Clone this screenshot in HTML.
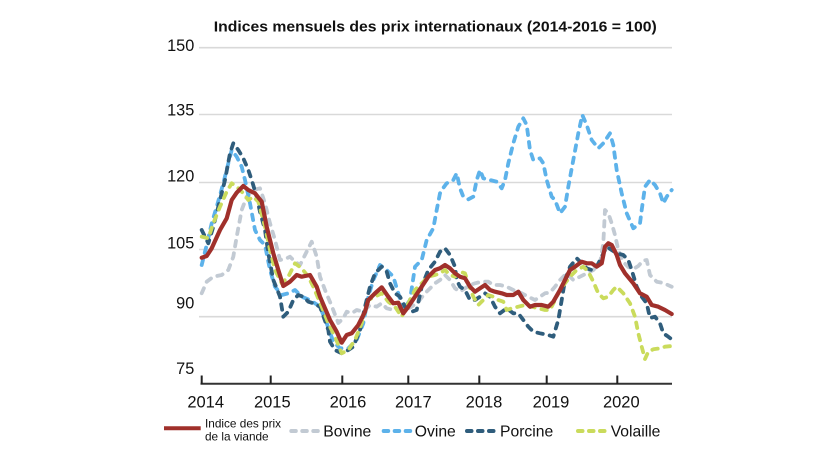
<!DOCTYPE html>
<html>
<head>
<meta charset="utf-8">
<style>
  html, body { margin:0; padding:0; background:#ffffff; }
  svg { display:block; }
  text { font-family: "Liberation Sans", Arial, sans-serif; fill:#111; }
</style>
</head>
<body>
<svg width="820" height="461" viewBox="0 0 820 461" xmlns="http://www.w3.org/2000/svg">
  <rect width="820" height="461" fill="#ffffff"/>

  <!-- Title -->
  <text x="435.3" y="31.7" text-anchor="middle" font-size="14.5" font-weight="bold" textLength="443" lengthAdjust="spacingAndGlyphs">Indices mensuels des prix internationaux (2014-2016 = 100)</text>

  <!-- Grid lines -->
  <g stroke="#D9D9D9" stroke-width="1.6">
    <line x1="199" y1="47.7" x2="672" y2="47.7"/>
    <line x1="199" y1="114.5" x2="672" y2="114.5"/>
    <line x1="199" y1="182.5" x2="672" y2="182.5"/>
    <line x1="199" y1="249.5" x2="672" y2="249.5"/>
    <line x1="199" y1="316.7" x2="672" y2="316.7"/>
  </g>

  <!-- Y labels -->
  <g font-size="16.3" text-anchor="end">
    <text x="194.3" y="51">150</text>
    <text x="194.3" y="115.7">135</text>
    <text x="194.3" y="181.7">120</text>
    <text x="194.3" y="248.3">105</text>
    <text x="194.3" y="308.3">90</text>
    <text x="194.3" y="374">75</text>
  </g>

  <!-- X axis -->
  <line x1="200.5" y1="383.8" x2="672" y2="383.8" stroke="#333" stroke-width="2"/>
  <g stroke="#222" stroke-width="2">
    <line x1="201.7" y1="375.5" x2="201.7" y2="384"/>
    <line x1="270.7" y1="375.5" x2="270.7" y2="384"/>
    <line x1="342.3" y1="375.5" x2="342.3" y2="384"/>
    <line x1="408.3" y1="375.5" x2="408.3" y2="384"/>
    <line x1="479.3" y1="375.5" x2="479.3" y2="384"/>
    <line x1="546.7" y1="375.5" x2="546.7" y2="384"/>
    <line x1="617.3" y1="375.5" x2="617.3" y2="384"/>
  </g>
  <g font-size="16.5" text-anchor="middle">
    <text x="205.7" y="407.7">2014</text>
    <text x="272.3" y="407.7">2015</text>
    <text x="348" y="407.7">2016</text>
    <text x="413.3" y="407.7">2017</text>
    <text x="484" y="407.7">2018</text>
    <text x="551" y="407.7">2019</text>
    <text x="621.3" y="407.7">2020</text>
  </g>

  <!-- Series -->
  <g fill="none" stroke-linejoin="round">
    <!-- Bovine -->
    <polyline stroke="#C2CAD3" stroke-width="3.8" stroke-linecap="round" stroke-dasharray="5.5 7"
      points="201.7,293.3 206.7,281.7 213.3,276.7 221.7,275 228.3,270 233.3,256.7 236.7,236.7 241.7,210 246.7,196.7 253.3,190 260,188.3 265,203.3 270,223.3 275,240 280,260 286.7,258.3 290,256.7 295,261.7 300,265 305,255 311.7,241.7 316.7,256.7 320,276.7 325,290 331.7,306 338.3,323 343.3,318.3 346.7,311.7 351.7,313.3 356.7,310 363.3,311.7 370,305 376.7,306.7 381.7,303.3 386.7,308.3 393.3,310 398.3,308.3 405,310 411.7,306.7 418.3,301.7 425,293.3 431.7,286.7 435,283.3 440,280 445,275 450,280 455,288.3 460,291.7 465,288.3 470,285 475,283.3 481.7,281.7 488.3,281.7 493.3,285 500,285 506.7,286.7 513.3,290 521.7,293.3 528.3,296.7 535,300 540,296.7 545,293.3 550,292.5 555,286.7 560,280 566.7,273.3 573.3,280 580,276.7 586.7,273.3 593.3,270 600,263.3 603.3,243.3 605,210 608.3,213.3 611.7,223.3 615,235 618.3,250 623.3,262 628.3,267 633.3,269 638.3,266 643.3,260.5 646.7,260 650,275 656.7,281.7 663.3,283 671.7,286.7"/>
    <!-- Ovine -->
    <polyline stroke="#5DB2EA" stroke-width="3.8" stroke-linecap="round" stroke-dasharray="5.5 7"
      points="201.7,265 206.7,245 211.7,223.3 216.7,206.7 223.3,183.3 228.3,163.3 231.7,150 236.7,156.7 241.7,166.7 245,180 250,203.3 255,230 260,240 265,245 270,270 275,286.7 281.7,295 288.3,293.3 295,290 301.7,296.7 310,300 320,306.7 326.7,323.3 333.3,341.7 340,348.3 348.3,348.3 356.7,340 363.3,323.3 368.3,296.7 373.3,280 380,265 386.7,270 393.3,276.7 398.3,293.3 403.3,310 410,300 415,266.7 421.7,260 426.7,240 433.3,228.3 436.7,210 440,193.3 441.7,190 446.7,183.3 453.3,180 456.7,173.3 460,188.3 463.3,196.7 468.3,199.3 473.3,196.7 476.7,180 480,170 483.3,178.3 490,180 496.7,181.7 501.7,188.3 505,180 508.3,163.3 513.3,143.3 518.3,126.7 523.3,118.3 526.7,125 530,150 533.3,160 540,158.3 543.3,163.3 546.7,180 551.7,196.7 555,200 560,213.3 565,206.7 568.3,186.7 573.3,160 578.3,133.3 582.3,115 586.7,125 591.7,140 598.3,148.3 603.3,143.3 610,133.3 613.3,145 616.7,170 621.7,193.3 626.7,213.3 633.3,228.3 640,223.3 641.7,210 645,186.7 650,180 655,185 660,193.3 663.3,203.3 666.7,196.7 671.7,190"/>
    <!-- Porcine -->
    <polyline stroke="#2F5D7C" stroke-width="3.8" stroke-linecap="round" stroke-dasharray="5.5 7"
      points="201.7,230 208.3,243.3 213.3,226.7 218.3,206.7 225,180 230,153.3 233.3,143.3 238.3,150 243.3,158.3 248.3,170 251.7,180 256.7,196.7 260,211.7 265,230 268.3,253.3 273.3,280 276.7,288.3 280,296.7 283.3,316.7 288.3,311.7 293.3,300 298.3,295 303.3,296.7 308.3,301.7 313.3,303.3 320,306.7 328.3,330 330,341.7 335,350 341.7,353.3 348.3,350 353.3,346.7 360,330 365,306.7 370,286.7 375,273.3 381.7,266.7 386.7,271.7 390,283.3 395,293.3 400,296.7 405,306.7 411.7,311.7 416.7,310 421.7,286.7 428.3,270 435,261.7 440,251.7 445,248.3 450,255 455,266.7 456.7,280 460,286.7 465,290 470,300 475,300 480,296.7 485,293.3 490,296.7 495,306.7 500,313.3 506.7,308.3 513.3,313.3 518.3,313.3 523.3,320 528.3,326.7 533.3,331.7 540,333.3 548.3,335 553.3,336.7 558.3,320 561.7,300 565,280 570,266.7 576.7,258.3 581.7,263.3 586.7,268.3 591.7,270 596.7,266.7 601.7,256.7 606.7,246.7 611.7,250 616.7,253.3 623.3,255 628.3,260 631.7,270 636.7,286.7 641.7,296.7 646.7,303.3 650,318 655,316.7 660,323.3 663.3,333.3 668.3,336.7 671.7,339.3"/>
    <!-- Volaille -->
    <polyline stroke="#CADB5C" stroke-width="3.8" stroke-linecap="round" stroke-dasharray="5.5 7"
      points="201.7,236.7 208.3,238.3 213.3,223.3 220,206.7 226.7,191.7 231.7,183.3 236.7,186.7 243.3,193.3 248.3,200 253.3,196.7 258.3,201.7 265,226.7 270,250 275,270 281.7,283.3 288.3,276.7 295,263.3 301.7,268.3 308.3,276.7 313.3,286.7 321.7,306.7 328.3,323.3 335,336.7 341.7,353.3 348.3,350 355,340 361.7,323.3 368.3,300 375,296.7 381.7,293.3 388.3,301.7 395,306.7 401.7,316.7 408.3,303.3 415,290 421.7,283.3 428.3,276.7 435,275 440,273.3 445,270 450,275 455,276.7 460,271.7 465,273.3 468.3,283.3 473.3,296.7 478.3,305 483.3,300 488.3,295 493.3,296.7 498.3,300 503.3,301.7 506.7,310 511.7,308.3 518.3,306.7 525,305 531.7,306.7 538.3,308.3 545,310 550,310 555,300 560,290 565,283.3 570,276.7 576.7,270 583.3,266.7 588.3,271.7 593.3,281.7 598.3,293.3 603.3,298.3 608.3,296.7 613.3,290 616.7,286.7 623.3,293.3 630,303.3 635,316.7 638.3,333.3 641.7,346.7 645,359 648.3,351.7 653.3,349.3 660,348.3 665,346.7 671.7,346"/>
    <!-- Meat price index -->
    <polyline stroke="#A0302B" stroke-width="4.2" stroke-linecap="round"
      points="201.7,257.7 206.7,256 211.7,248.3 220,230 226.7,218.3 231.7,200 236.7,192.7 243.3,186 248.3,190 255,193.3 261.7,201.7 266.7,226.7 273.3,253.3 278.3,270 283.3,286 290,281.7 296.7,275 301.7,276.7 310,275 316.7,286.7 320,296.7 330,320 336.7,331.7 341.7,342.7 346.7,335 351.7,333.3 358.3,325 365,311.7 368.3,300 375,293.3 381.7,287.3 388.3,296.7 393.3,303.3 398.3,302.7 403.3,313.3 408.3,306.7 415,296.7 421.7,286.7 428.3,276.7 435,270 440,268.3 445,265 450,268.3 455,273.3 460,276.7 465,278.3 470,286.7 475,291.7 480,288.3 485,285 490,290 495,291.7 501.7,293.3 506.7,295 513.3,295 518.3,291.7 523.3,300 530,306.7 535,305 541.7,305 548.3,306.7 553.3,301.7 560,290 565,280 570,270 575,266.7 581.7,261.7 586.7,263.3 591.7,263.3 596.7,266.7 601.7,263.3 605,246.7 608.3,243.3 611.7,245 616.7,255 620,265 625,273.3 633.3,283.3 640,293.3 646.7,296.7 651.7,305 658.3,306.7 665,310 671.7,314"/>
  </g>

  <!-- Legend -->
  <line x1="164" y1="428.3" x2="200.7" y2="428.3" stroke="#A0302B" stroke-width="4"/>
  <text x="205" y="427.5" font-size="11.8">Indice des prix</text>
  <text x="205" y="440.3" font-size="11.8">de la viande</text>

  <g stroke-width="4" stroke-linecap="round" stroke-dasharray="4.5 6.5" fill="none">
    <line x1="291.3" y1="431" x2="319" y2="431" stroke="#C2CAD3"/>
    <line x1="383.7" y1="431" x2="411" y2="431" stroke="#5DB2EA"/>
    <line x1="467" y1="431" x2="496" y2="431" stroke="#2F5D7C"/>
    <line x1="578" y1="431" x2="606" y2="431" stroke="#CADB5C"/>
  </g>
  <g font-size="15.7">
    <text x="323.3" y="436.6">Bovine</text>
    <text x="414.8" y="436.6">Ovine</text>
    <text x="500" y="436.6">Porcine</text>
    <text x="610.7" y="436.6">Volaille</text>
  </g>
</svg>
</body>
</html>
